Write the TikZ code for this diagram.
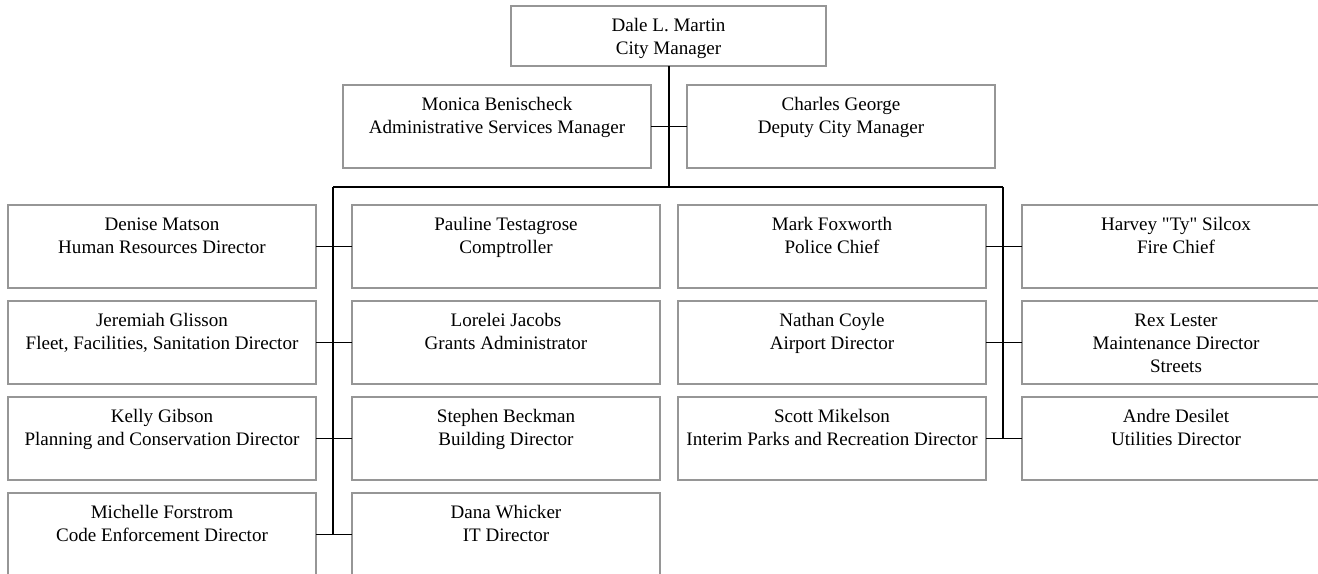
\documentclass[tikz,border=0pt]{standalone}
\usepackage{fontspec}
\setmainfont{Liberation Serif}[Ligatures=TeXOff]
\definecolor{boxgray}{RGB}{150,150,150}
\begin{document}
\begin{tikzpicture}[x=0.75pt,y=-0.75pt,
  box/.style={draw=boxgray,line width=1.1pt,rectangle,anchor=north west,inner sep=0pt,outer sep=0pt,
    minimum width=231pt,minimum height=62.25pt},
  topbox/.style={box,minimum width=236.25pt,minimum height=45pt},
  txt/.style={anchor=north,align=center,inner sep=0pt,yshift=-7.2pt,
    font=\fontsize{14.3}{17.25}\selectfont},
  conn/.style={draw=black,line width=1.35pt}]
\useasboundingbox (0,0) rectangle (1318,574);
\clip (0,0) rectangle (1318,574);
% top
\node[topbox] (dale) at (511,6) {};
\node[txt] (tdale) at (dale.north) {\strut Dale L. Martin\\City Manager};
\node[box] (monica) at (343,85) {};
\node[txt] (tmonica) at (monica.north) {\strut Monica Benischeck\\Administrative Services Manager};
\node[box] (charles) at (687,85) {};
\node[txt] (tcharles) at (charles.north) {\strut Charles George\\Deputy City Manager};
% column 1
\node[box] (denise) at (8,205) {};
\node[txt] (tdenise) at (denise.north) {\strut Denise Matson\\Human Resources Director};
\node[box] (jeremiah) at (8,301) {};
\node[txt] (tjeremiah) at (jeremiah.north) {\strut Jeremiah Glisson\\Fleet, Facilities, Sanitation Director};
\node[box] (kelly) at (8,397) {};
\node[txt] (tkelly) at (kelly.north) {\strut Kelly Gibson\\Planning and Conservation Director};
\node[box] (michelle) at (8,493) {};
\node[txt] (tmichelle) at (michelle.north) {\strut Michelle Forstrom\\Code Enforcement Director};
% column 2
\node[box] (pauline) at (352,205) {};
\node[txt] (tpauline) at (pauline.north) {\strut Pauline Testagrose\\Comptroller};
\node[box] (lorelei) at (352,301) {};
\node[txt] (tlorelei) at (lorelei.north) {\strut Lorelei Jacobs\\Grants Administrator};
\node[box] (stephen) at (352,397) {};
\node[txt] (tstephen) at (stephen.north) {\strut Stephen Beckman\\Building Director};
\node[box] (dana) at (352,493) {};
\node[txt] (tdana) at (dana.north) {\strut Dana Whicker\\IT Director};
% column 3
\node[box] (mark) at (678,205) {};
\node[txt] (tmark) at (mark.north) {\strut Mark Foxworth\\Police Chief};
\node[box] (nathan) at (678,301) {};
\node[txt] (tnathan) at (nathan.north) {\strut Nathan Coyle\\Airport Director};
\node[box] (scott) at (678,397) {};
\node[txt] (tscott) at (scott.north) {\strut Scott Mikelson\\Interim Parks and Recreation Director};
% column 4
\node[box] (harvey) at (1022,205) {};
\node[txt] (tharvey) at (harvey.north) {\strut Harvey "Ty" Silcox\\Fire Chief};
\node[box] (rex) at (1022,301) {};
\node[txt] (trex) at (rex.north) {\strut Rex Lester\\Maintenance Director\\Streets};
\node[box] (andre) at (1022,397) {};
\node[txt] (tandre) at (andre.north) {\strut Andre Desilet\\Utilities Director};
% bus coordinates
\coordinate (busmid) at (669,187);
\coordinate (busL) at (333,187);
\coordinate (busR) at (1003,187);
\coordinate (leftEnd) at (333,534.5);
\coordinate (rightEnd) at (1003,438.5);
% connectors
\draw[conn] (dale.south -| busmid) -- (busmid);
\draw[conn] (monica.east) -- (charles.west);
\draw[conn] (busL) -- (busR);
\draw[conn] (busL) -- (leftEnd);
\draw[conn] (busR) -- (rightEnd);
\draw[conn] (denise.east) -- (pauline.west);
\draw[conn] (jeremiah.east) -- (lorelei.west);
\draw[conn] (kelly.east) -- (stephen.west);
\draw[conn] (michelle.east) -- (dana.west);
\draw[conn] (mark.east) -- (harvey.west);
\draw[conn] (nathan.east) -- (rex.west);
\draw[conn] (scott.east) -- (andre.west);
\end{tikzpicture}
\end{document}
